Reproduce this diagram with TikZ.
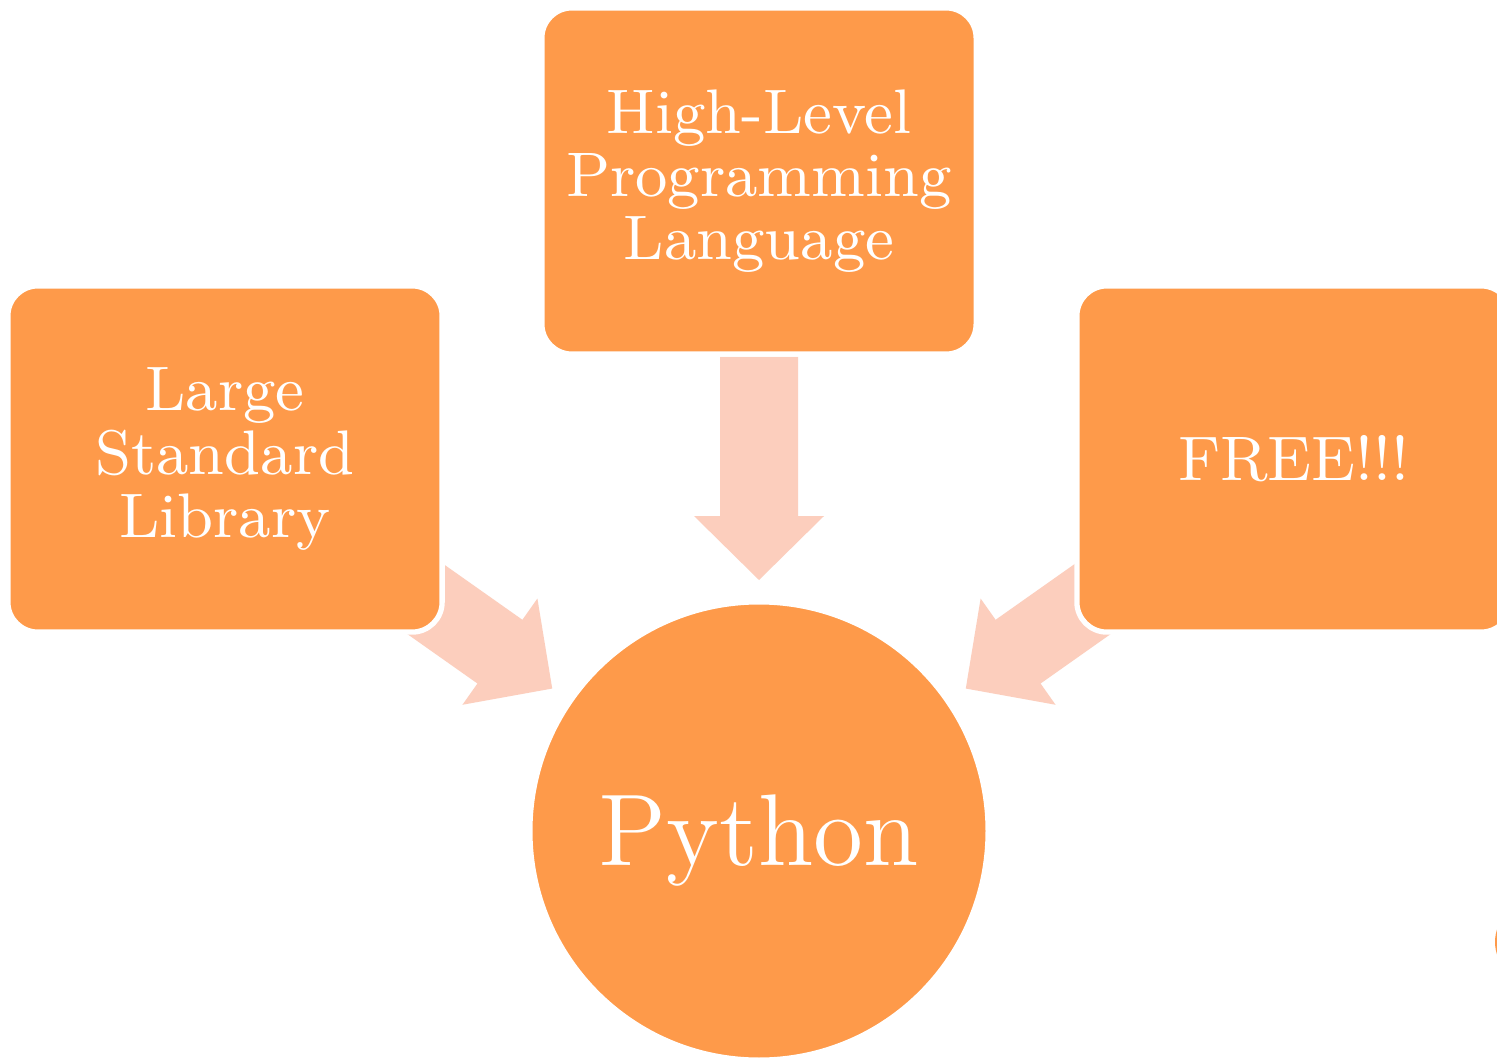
\documentclass[tikz,border=0pt]{standalone}
\usepackage{fontspec}
\usepackage{xcolor}
\newfontfamily\chuhop{lmroman9-regular}[Extension=.otf]
\newfontfamily\chutron{lmroman12-regular}[Extension=.otf]
\definecolor{camdam}{HTML}{FE9A4A}
\definecolor{camnhat}{HTML}{FCCEBD}
\begin{document}
\begin{tikzpicture}[x=0.01cm,y=-0.01cm,line join=round,
	hop/.style={rectangle,rounded corners=0.3cm,fill=camdam,draw=white,line width=1.5pt,
		minimum width=4.34cm,minimum height=3.46cm,text=white,align=center,
		font=\chuhop\fontsize{17.9}{18}\selectfont},
	tron/.style={circle,fill=camdam,draw=white,line width=1.5pt,minimum size=4.58cm,
		text=white,font=\chutron\fontsize{29}{30}\selectfont,text height=19.8pt,text depth=0pt},
	muiten/.style={fill=camnhat}]
	\fill[white] (0,0) rectangle (1497,1058);
	\useasboundingbox (0,0) rectangle (1497,1058);
	\def\muiten{(-39,0)--(39,0)--(39,159)--(65,159)--(0,223)--(-65,159)--(-39,159)--cycle} % mui ten khoi
	% cac mui ten
	\fill[muiten,shift={(759,357)}] \muiten;
	\fill[muiten,shift={(370,560)},rotate=54.8] \muiten;
	\fill[muiten,shift={(1148,560)},rotate=-54.8] \muiten;
	% cac hop
	\path 
	(225,459) node[hop] (thuvien) {Large\\Standard\\Library}
	(759,181) node[hop] (caocap) {High-Level\\Programming\\Language}
	(1294,459) node[hop] (mienphi) {FREE!!!}
	(759,831) node[tron] (python) {Python}
	;
	\fill[camdam] (1535,942) circle (40);
\end{tikzpicture}
\end{document}
